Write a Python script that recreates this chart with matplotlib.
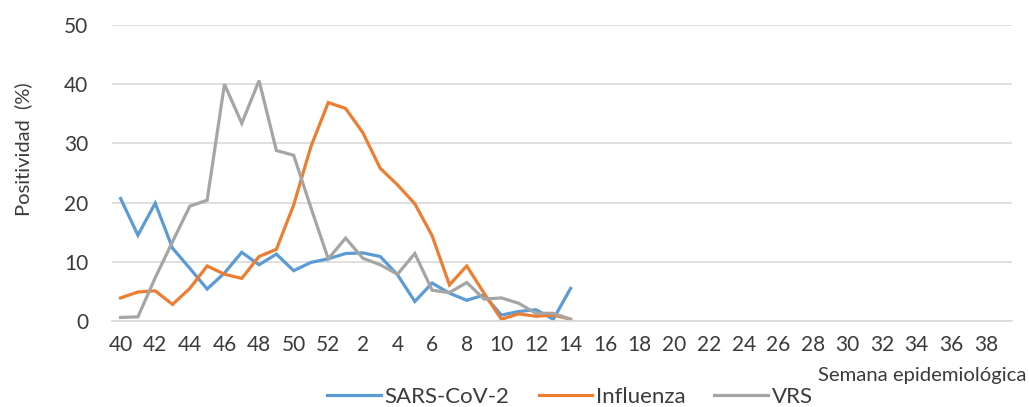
import matplotlib
matplotlib.use("Agg")
import matplotlib.pyplot as plt

# semanas epidemiologicas 40..52 y 1..39
weeks = list(range(40, 53)) + list(range(1, 40))

sars = [20.7, 14.5, 19.9, 12.3, 8.9, 5.4, 8.1, 11.6, 9.5, 11.3, 8.5,
        9.9, 10.5, 11.4, 11.5, 10.9, 7.8, 3.3, 6.4, 4.7, 3.5,
        4.4, 1.0, 1.6, 1.9, 0.3, 5.5]
influenza = [3.9, 4.9, 5.1, 2.8, 5.5, 9.3, 7.9, 7.2, 10.9, 12.1, 19.6,
             29.5, 36.9, 35.9, 31.8, 25.8, 23.0, 19.8, 14.4, 6.1, 9.3,
             4.7, 0.3, 1.2, 0.8, 1.0, 0.3]
vrs = [0.6, 0.7, 7.3, 13.4, 19.4, 20.4, 40.0, 33.4, 40.6, 28.8, 28.0,
       19.1, 10.5, 14.0, 10.6, 9.5, 7.9, 11.4, 5.2, 4.8, 6.5,
       3.7, 3.9, 3.0, 1.3, 1.3, 0.3]

series_names = ["SARS-CoV-2", "Influenza", "VRS"]
colors = ["#5B9BD5", "#ED7D31", "#A5A5A5"]

plt.rcParams['font.family'] = ['Lato', 'DejaVu Sans']
text_color = "#3B3B3B"

fig = plt.figure(figsize=(10.29, 4.07), dpi=100)
ax = fig.add_axes([0.1088, 0.2113, 0.8746, 0.7273])

x = list(range(len(weeks)))
for vals, name, c in zip([sars, influenza, vrs], series_names, colors):
	ax.plot(x[:len(vals)], vals, color=c, lw=2.3, label=name, solid_joinstyle='miter')

ax.set_xlim(-0.5, len(weeks) - 0.5)
ax.set_ylim(0, 50)
ax.set_yticks(range(0, 51, 10))
ax.set_xticks(x[::2])
ax.set_xticklabels([str(w) for w in weeks[::2]])
ax.grid(axis='y', color="#D9D9D9", lw=1.2)
ax.set_axisbelow(True)
for side in ['top', 'right', 'left']:
	ax.spines[side].set_visible(False)
ax.spines['bottom'].set_color("#D9D9D9")
ax.spines['bottom'].set_linewidth(1.2)
ax.tick_params(axis='both', length=0, colors=text_color, labelsize=15)
ax.tick_params(axis='y', pad=17)
ax.tick_params(axis='x', pad=10)

fig.text(23 / 1029, 1 - 149 / 407, "Positividad  (%)", rotation=90, ha='center', va='center',
	color=text_color, fontsize=14.5)
fig.text(1027 / 1029, 1 - 381 / 407, "Semana epidemiológica", ha='right', va='baseline',
	color=text_color, fontsize=14.6)

leg = fig.legend(loc='center', bbox_to_anchor=(0.554, 0.025), ncol=3, frameon=False,
	fontsize=16, handlelength=2.4, columnspacing=1.3, handletextpad=0.18,
	borderpad=0, borderaxespad=0)
for t in leg.get_texts():
	t.set_color(text_color)

fig.savefig("out.png", dpi=100)
